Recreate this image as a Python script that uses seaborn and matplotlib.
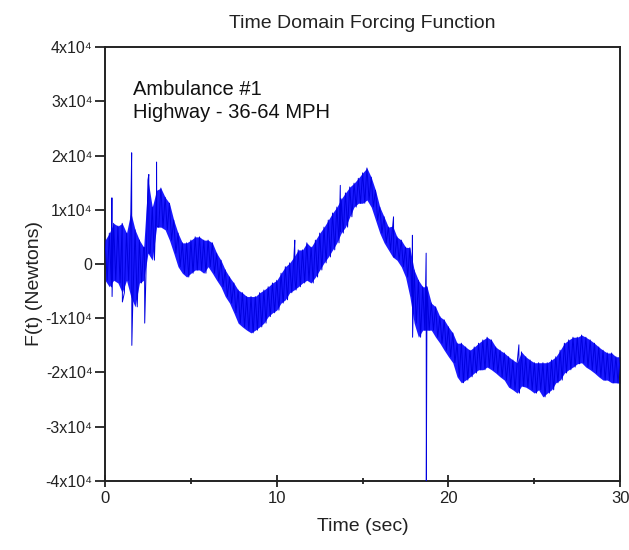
import numpy as np
import pandas as pd
import seaborn as sns
import matplotlib.pyplot as plt

# time grid of the envelope readings (sec)
t_env = np.arange(0, 30.01, 0.25)

# upper / lower edge of the noisy band (units of 1e4 N)
upper = [0.44, 0.57, 0.75, 0.70, 0.75, 0.57, 0.95, 0.63, 0.44, 0.31,
         1.55, 1.05, 1.36, 1.40, 1.23, 1.12, 0.81, 0.57, 0.39, 0.39,
         0.44, 0.50, 0.50, 0.44, 0.44, 0.39, 0.20, 0.07, -0.11, -0.24,
         -0.35, -0.48, -0.53, -0.60, -0.60, -0.60, -0.53, -0.48, -0.42, -0.35,
         -0.30, -0.17, -0.05, 0.02, 0.13, 0.26, 0.26, 0.39, 0.31, 0.44,
         0.57, 0.68, 0.81, 0.94, 1.05, 1.20, 1.31, 1.42, 1.49, 1.58,
         1.68, 1.77, 1.60, 1.36, 1.05, 0.87, 0.68, 0.70, 0.50, 0.44,
         0.31, 0.30, -0.11, -0.30, -0.42, -0.42, -0.72, -0.79, -0.97, -1.03,
         -1.16, -1.27, -1.46, -1.46, -1.53, -1.59, -1.53, -1.46, -1.40, -1.35,
         -1.40, -1.53, -1.59, -1.64, -1.71, -1.77, -1.82, -1.62, -1.71, -1.77,
         -1.82, -1.82, -1.82, -1.82, -1.77, -1.71, -1.59, -1.46, -1.40, -1.35,
         -1.35, -1.31, -1.35, -1.40, -1.46, -1.53, -1.59, -1.64, -1.64, -1.71,
         -1.71]
lower = [-0.30, -0.42, -0.30, -0.35, -0.53, -0.30, -0.60, -0.79, -0.35, -0.30,
         0.20, 0.07, 0.68, 0.68, 0.63, 0.44, 0.20, -0.05, -0.17, -0.24,
         -0.17, -0.11, -0.11, -0.17, -0.05, -0.17, -0.30, -0.42, -0.60, -0.72,
         -0.90, -1.09, -1.16, -1.22, -1.27, -1.22, -1.16, -1.09, -0.97, -0.90,
         -0.85, -0.72, -0.66, -0.53, -0.48, -0.42, -0.35, -0.30, -0.35, -0.24,
         -0.11, 0.02, 0.13, 0.26, 0.39, 0.57, 0.68, 0.87, 1.05, 1.12,
         1.12, 1.18, 1.05, 0.81, 0.57, 0.39, 0.26, 0.13, 0.07, -0.05,
         -0.24, -0.60, -1.09, -1.35, -1.22, -1.22, -1.22, -1.35, -1.46, -1.59,
         -1.71, -1.82, -2.08, -2.19, -2.14, -2.08, -2.01, -1.95, -1.95, -1.90,
         -1.95, -2.01, -2.08, -2.14, -2.27, -2.32, -2.38, -2.25, -2.27, -2.32,
         -2.38, -2.32, -2.45, -2.38, -2.32, -2.19, -2.14, -2.01, -1.95, -1.90,
         -1.84, -1.82, -1.90, -1.95, -2.01, -2.08, -2.14, -2.14, -2.19, -2.19,
         -2.20]

# isolated spikes (time, top, bottom) in 1e4 N
spike_t = [0.4, 1.0, 1.55, 2.3, 2.55, 3.0, 11.05, 13.7, 16.8, 17.9, 18.7, 24.1]
spike_hi = [1.22, 0.75, 2.05, 0.30, 1.65, 1.88, 0.44, 1.45, 0.87, 0.53, 0.20, -1.49]
spike_lo = [-0.60, -0.70, -1.50, -1.09, 0.20, 0.70, -0.30, 0.60, 0.13, -1.35, -4.10, -2.20]

# zig-zag between the band edges, spikes merged in
half = 0.125
pts_t = np.concatenate([t_env, t_env + half, spike_t, np.array(spike_t) + 0.01])
pts_f = np.concatenate([upper, lower, spike_hi, spike_lo])
df = pd.DataFrame({'t': pts_t, 'F': pts_f * 1e4})
df = df.sort_values('t', kind='mergesort').reset_index(drop=True)

sns.set_style('ticks')
plt.rcParams['font.family'] = ['Liberation Sans', 'DejaVu Sans']

fig = plt.figure(figsize=(6.29, 5.5), dpi=100)
ax = fig.add_axes([0.167, 0.1255, 0.819, 0.789])

# solid core of the noise band
ax.fill_between(t_env, np.array(lower) * 1e4, np.array(upper) * 1e4,
                color='#1a1aff', lw=0, zorder=2)
sns.lineplot(data=df, x='t', y='F', estimator=None, sort=False,
             color='#0000e0', lw=0.7, ax=ax, zorder=3)

ax.set_xlim(0, 30)
ax.set_ylim(-4e4, 4e4)
ax.set_xticks([0, 10, 20, 30])
ax.set_xticks([5, 15, 25], minor=True)
yt = [-4, -3, -2, -1, 0, 1, 2, 3, 4]
ax.set_yticks([v * 1e4 for v in yt])
ax.set_yticklabels(['0' if v == 0 else f'{v}x10\u2074' for v in yt])
ax.tick_params(axis='y', which='major', direction='out', length=7, width=1.3,
               labelsize=11.5, colors='#222222', pad=2)
ax.tick_params(axis='x', which='major', direction='inout', length=9, width=1.3,
               labelsize=12, colors='#222222', pad=3)
ax.tick_params(axis='x', which='minor', direction='inout', length=5, width=1.3,
               colors='#222222')
for s in ax.spines.values():
    s.set_linewidth(1.4)
    s.set_color('#222222')

ax.set_xlabel('Time (sec)', fontsize=14, labelpad=8, color='#222222')
ax.set_ylabel('F(t) (Newtons)', fontsize=14, color='#222222')
ax.yaxis.set_label_coords(-0.12, 0.456)
ax.set_title('Time Domain Forcing Function', fontsize=14, pad=14, color='#222222')
ax.text(0.055, 0.903, 'Ambulance #1', transform=ax.transAxes, fontsize=14.5,
        va='center', color='#111111')
ax.text(0.055, 0.85, 'Highway - 36-64 MPH', transform=ax.transAxes, fontsize=14.5,
        va='center', color='#111111')

fig.savefig('out.png', dpi=100)
